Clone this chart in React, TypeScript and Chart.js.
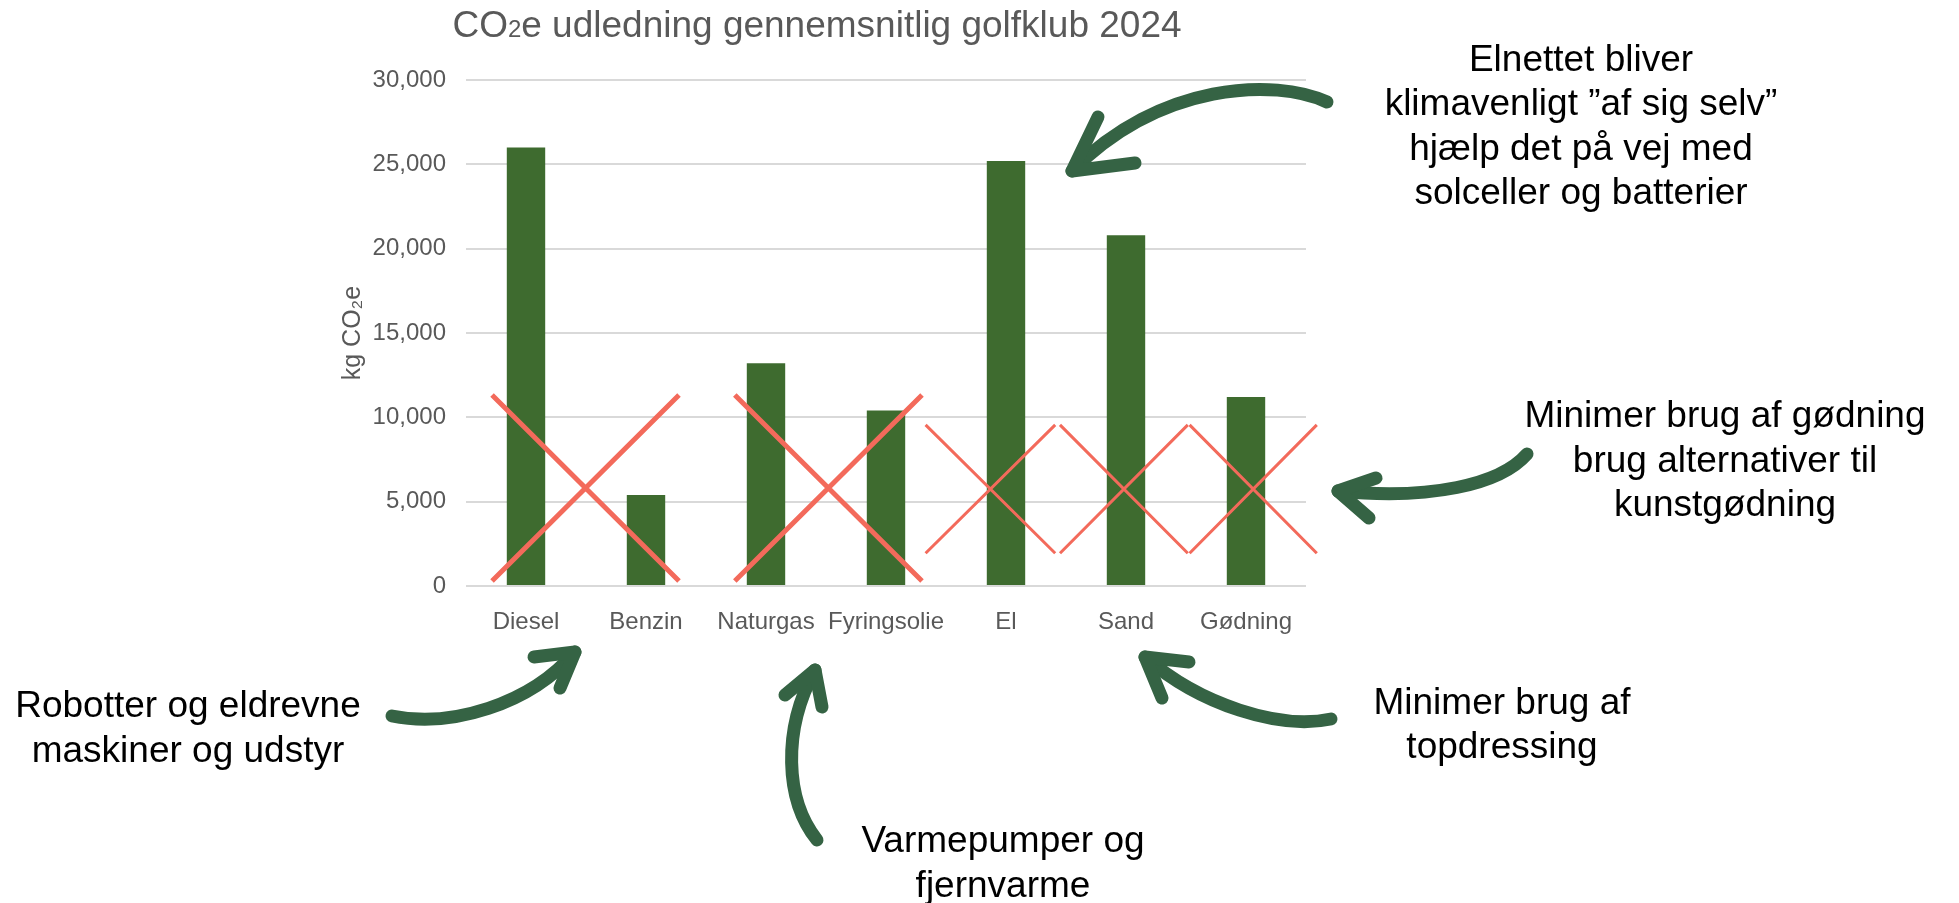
import React, { useEffect, useRef } from 'react';
import { Chart, registerables } from 'chart.js';

Chart.register(...registerables);

// ---------- data ----------
const categories = ['Diesel', 'Benzin', 'Naturgas', 'Fyringsolie', 'El', 'Sand', 'Gødning'];
const emissions = [26000, 5400, 13200, 10400, 25200, 20800, 11200];
const yTickValues = [0, 5000, 10000, 15000, 20000, 25000, 30000];
const titleParts = ['CO', '2', 'e udledning gennemsnitlig golfklub 2024'];
const yAxisTitle = 'kg CO₂e';

const calloutTexts = [
  ['Elnettet bliver', 'klimavenligt ”af sig selv”', 'hjælp det på vej med', 'solceller og batterier'],
  ['Minimer brug af gødning', 'brug alternativer til', 'kunstgødning'],
  ['Robotter og eldrevne', 'maskiner og udstyr'],
  ['Varmepumper og', 'fjernvarme'],
  ['Minimer brug af', 'topdressing'],
];

// ---------- styling / annotation layout ----------
const FONT = "'Liberation Sans', Arial, Helvetica, sans-serif";
const GRAY = '#595959';
const BAR = '#3E6B2F';
const RED = '#F36A5B';
const ARROW = '#356344';

// crosses, in axis units (category index, kg)
const crosses = [
  { from: -0.283, to: 1.275, high: 11320, low: 300, width: 5 },
  { from: 1.74, to: 3.3, high: 11320, low: 300, width: 5 },
  { from: 3.33, to: 4.41, high: 9550, low: 1940, width: 3 },
  { from: 4.45, to: 5.515, high: 9550, low: 1940, width: 3 },
  { from: 5.53, to: 6.59, high: 9550, low: 1940, width: 3 },
];

// callout placement (canvas pixels)
const calloutPos = [
  { x: 1581, y: 70.5 },
  { x: 1725, y: 427 },
  { x: 188, y: 717 },
  { x: 1003, y: 852 },
  { x: 1502, y: 713.5 },
];
const calloutLineGap = 44.5;

type P = [number, number];
const arrows: { c: [P, P, P, P]; barbs: [P, P] }[] = [
  { c: [[1327, 102], [1275, 78], [1160, 82], [1072, 171]], barbs: [[1098, 117], [1135, 163]] },
  { c: [[1527, 454], [1500, 485], [1430, 500], [1338, 491]], barbs: [[1376, 478], [1369, 518]] },
  { c: [[392, 716], [450, 728], [530, 705], [575, 652]], barbs: [[534, 657], [560, 688]] },
  { c: [[817, 840], [785, 800], [782, 730], [815, 670]], barbs: [[785, 695], [822, 707]] },
  { c: [[1331, 719], [1280, 730], [1200, 705], [1145, 657]], barbs: [[1189, 662], [1162, 698]] },
];

const crossPlugin = {
  id: 'crosses',
  afterDatasetsDraw(chart: any) {
    const { ctx } = chart;
    const xs = chart.scales.x;
    const ys = chart.scales.y;
    ctx.save();
    ctx.strokeStyle = RED;
    ctx.lineCap = 'butt';
    crosses.forEach((c) => {
      const x0 = xs.getPixelForValue(c.from);
      const x1 = xs.getPixelForValue(c.to);
      const y0 = ys.getPixelForValue(c.high);
      const y1 = ys.getPixelForValue(c.low);
      ctx.lineWidth = c.width;
      ctx.beginPath();
      ctx.moveTo(x0, y0);
      ctx.lineTo(x1, y1);
      ctx.moveTo(x0, y1);
      ctx.lineTo(x1, y0);
      ctx.stroke();
    });
    ctx.restore();
  },
};

const overlayPlugin = {
  id: 'overlay',
  afterDraw(chart: any) {
    const { ctx } = chart;
    // title with small "2"
    ctx.save();
    ctx.fillStyle = GRAY;
    ctx.textBaseline = 'alphabetic';
    const fonts = [`37px ${FONT}`, `24px ${FONT}`, `37px ${FONT}`];
    const widths = titleParts.map((t, i) => {
      ctx.font = fonts[i];
      return ctx.measureText(t).width;
    });
    const total = widths.reduce((a, b) => a + b, 0);
    let x = 817 - total / 2;
    titleParts.forEach((t, i) => {
      ctx.font = fonts[i];
      ctx.fillText(t, x, 37);
      x += widths[i];
    });
    ctx.restore();

    // arrows
    ctx.save();
    ctx.strokeStyle = ARROW;
    ctx.lineWidth = 13;
    ctx.lineCap = 'round';
    ctx.lineJoin = 'round';
    arrows.forEach((a) => {
      const [p0, p1, p2, p3] = a.c;
      ctx.beginPath();
      ctx.moveTo(p0[0], p0[1]);
      ctx.bezierCurveTo(p1[0], p1[1], p2[0], p2[1], p3[0], p3[1]);
      ctx.stroke();
      ctx.beginPath();
      ctx.moveTo(a.barbs[0][0], a.barbs[0][1]);
      ctx.lineTo(p3[0], p3[1]);
      ctx.lineTo(a.barbs[1][0], a.barbs[1][1]);
      ctx.stroke();
    });
    ctx.restore();

    // callout texts
    ctx.save();
    ctx.fillStyle = '#000000';
    ctx.font = `37px ${FONT}`;
    ctx.textAlign = 'center';
    ctx.textBaseline = 'alphabetic';
    calloutTexts.forEach((lines, i) => {
      const pos = calloutPos[i];
      lines.forEach((line, j) => {
        ctx.fillText(line, pos.x, pos.y + j * calloutLineGap);
      });
    });
    ctx.restore();
  },
};

export default function App() {
  const canvasRef = useRef<HTMLCanvasElement | null>(null);

  useEffect(() => {
    if (!canvasRef.current) return;
    const chart = new Chart(canvasRef.current, {
      type: 'bar',
      data: {
        labels: categories,
        datasets: [
          {
            data: emissions,
            backgroundColor: BAR,
            borderWidth: 0,
            barPercentage: 0.32,
            categoryPercentage: 1,
          },
        ],
      },
      options: {
        animation: false,
        responsive: false,
        layout: { padding: { left: 338, right: 653, top: 80, bottom: 257 } },
        plugins: {
          legend: { display: false },
          title: { display: false },
          tooltip: { enabled: false },
        },
        scales: {
          x: {
            grid: { display: false },
            border: { display: false },
            ticks: {
              color: GRAY,
              font: { family: FONT, size: 24, lineHeight: 1.2 },
              padding: 14,
              autoSkip: false,
              maxRotation: 0,
              minRotation: 0,
            },
            afterFit: (s: any) => {
              s.height = 60;
            },
          },
          y: {
            min: 0,
            max: 30000,
            afterBuildTicks: (s: any) => {
              s.ticks = yTickValues.map((v) => ({ value: v }));
            },
            grid: { color: '#D9D9D9', lineWidth: 2, drawTicks: false },
            border: { display: false },
            ticks: {
              color: GRAY,
              font: { family: FONT, size: 24, lineHeight: 1.2 },
              padding: 20,
              callback: (v: any) => Number(v).toLocaleString('en-US'),
            },
            title: {
              display: true,
              text: yAxisTitle,
              color: GRAY,
              font: { family: FONT, size: 25, lineHeight: 1.2 },
              padding: { top: 0, bottom: 0 },
            },
            afterFit: (s: any) => {
              s.width = 128;
            },
          },
        },
      },
      plugins: [crossPlugin, overlayPlugin],
    });
    return () => chart.destroy();
  }, []);

  return (
    <div
      style={{
        position: 'fixed',
        left: 0,
        top: 0,
        width: 1959,
        height: 903,
        background: '#ffffff',
      }}
    >
      <canvas ref={canvasRef} width={1959} height={903} style={{ display: 'block' }} />
    </div>
  );
}
